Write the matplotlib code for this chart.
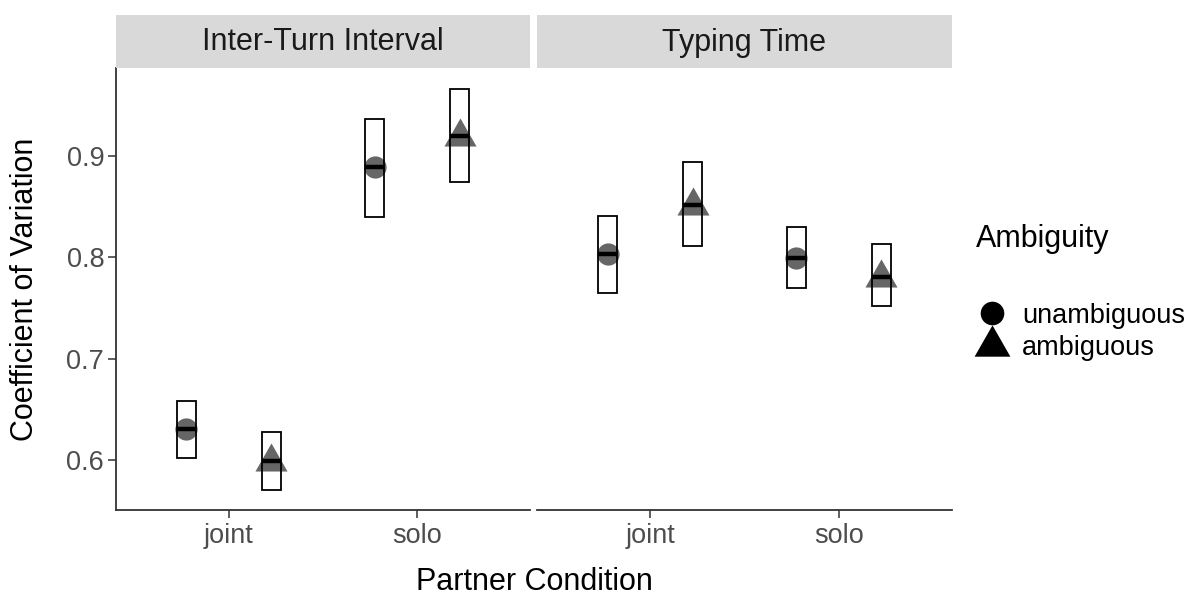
import matplotlib
matplotlib.use("Agg")
import matplotlib.pyplot as plt
from matplotlib.patches import Rectangle
from matplotlib.lines import Line2D
import numpy as np

plt.rcParams['font.family'] = ['Liberation Sans', 'DejaVu Sans']

# ---- data ----
measures = ["Inter-Turn Interval", "Typing Time"]
conditions = ["joint", "solo"]
ambiguity = ["unambiguous", "ambiguous"]

# order within each measure: [joint-unamb, joint-amb, solo-unamb, solo-amb]
iti_mean = [0.631, 0.599, 0.889, 0.920]
iti_low = [0.602, 0.570, 0.840, 0.874]
iti_high = [0.658, 0.628, 0.937, 0.966]

tt_mean = [0.803, 0.852, 0.799, 0.781]
tt_low = [0.765, 0.811, 0.770, 0.752]
tt_high = [0.841, 0.894, 0.830, 0.813]

y_ticks = [0.6, 0.7, 0.8, 0.9]
x_title = "Partner Condition"
y_title = "Coefficient of Variation"
legend_title = "Ambiguity"

# ---- figure ----
W, H = 1195, 599
fig = plt.figure(figsize=(W / 100, H / 100), dpi=100)


def fx(px):
    return px / W


def fy(py):
    return 1 - py / H


panel_top, panel_bot = 68, 510
strip_top = 15
panels_px = [(116, 530), (537, 952)]

tri_verts = [(0, 18), (-16, -10), (16, -10), (0, 18)]
marker_color = '#666666'
dodge = 0.226
box_w = 0.1

data = [(iti_mean, iti_low, iti_high), (tt_mean, tt_low, tt_high)]

for pi, ((x0, x1), name, (means, lows, highs)) in enumerate(zip(panels_px, measures, data)):
    ax = fig.add_axes([fx(x0), fy(panel_bot), fx(x1 - x0), (panel_bot - panel_top) / H])
    ax.set_xlim(0.4, 2.6)
    ax.set_ylim(0.5507, 0.9869)
    for ci, cond in enumerate(conditions):
        for ai, amb in enumerate(ambiguity):
            k = ci * 2 + ai
            x = ci + 1 + (-dodge if ai == 0 else dodge)
            if ai == 0:
                ax.plot([x], [means[k]], marker='o', ms=16, color=marker_color,
                        linestyle='none', zorder=2, markeredgewidth=0)
            else:
                ax.plot([x], [means[k]], marker=tri_verts, ms=26, color=marker_color,
                        linestyle='none', zorder=2, markeredgewidth=0)
            ax.bar([x], [highs[k] - lows[k]], bottom=[lows[k]], width=box_w,
                   fill=False, edgecolor='black', linewidth=1.3, zorder=3)
            ax.hlines([means[k]], x - box_w / 2, x + box_w / 2, color='black',
                      linewidth=3.2, zorder=4)
    ax.set_xticks([1, 2])
    ax.set_xticklabels(conditions)
    ax.set_yticks(y_ticks)
    ax.set_yticklabels([f"{v:.1f}" for v in y_ticks])
    ax.tick_params(axis='both', labelsize=19.5, labelcolor='#4D4D4D', color='#333333',
                   length=5.5, width=1.1)
    ax.tick_params(axis='x', pad=4)
    ax.tick_params(axis='y', pad=3)
    for s in ['top', 'right']:
        ax.spines[s].set_visible(False)
    ax.spines['bottom'].set_color('#333333')
    ax.spines['bottom'].set_linewidth(1.3)
    if pi == 0:
        ax.spines['left'].set_color('#333333')
        ax.spines['left'].set_linewidth(1.3)
    else:
        ax.spines['left'].set_visible(False)
        ax.tick_params(axis='y', left=False, labelleft=False)

    # strip
    strip = Rectangle((fx(x0), fy(panel_top)), fx(x1 - x0), (panel_top - strip_top) / H,
                      transform=fig.transFigure, facecolor='#D9D9D9', edgecolor='none')
    fig.patches.append(strip)
    fig.text(fx((x0 + x1) / 2), fy((panel_top + strip_top) / 2 + 1), name,
             ha='center', va='center', fontsize=22, color='#1A1A1A')

# axis titles
fig.text(fx((116 + 952) / 2), fy(582), x_title, ha='center', va='center', fontsize=22)
fig.text(fx(25), fy((panel_top + panel_bot) / 2), y_title, ha='center', va='center',
         fontsize=22, rotation=90)

# legend
handles = [Line2D([], [], marker='o', color='black', linestyle='none', ms=17, markeredgewidth=0),
           Line2D([], [], marker=tri_verts, color='black', linestyle='none', ms=29, markeredgewidth=0)]
leg = fig.legend(handles, ambiguity, title=legend_title, loc='upper left',
                 bbox_to_anchor=(fx(957), fy(205)), frameon=False, fontsize=19.5,
                 title_fontsize=22, alignment='left', handletextpad=0.5,
                 labelspacing=0.22, handlelength=1.2, borderpad=0.2)
leg._legend_box.sep = 35

fig.savefig("out.png", dpi=100)
